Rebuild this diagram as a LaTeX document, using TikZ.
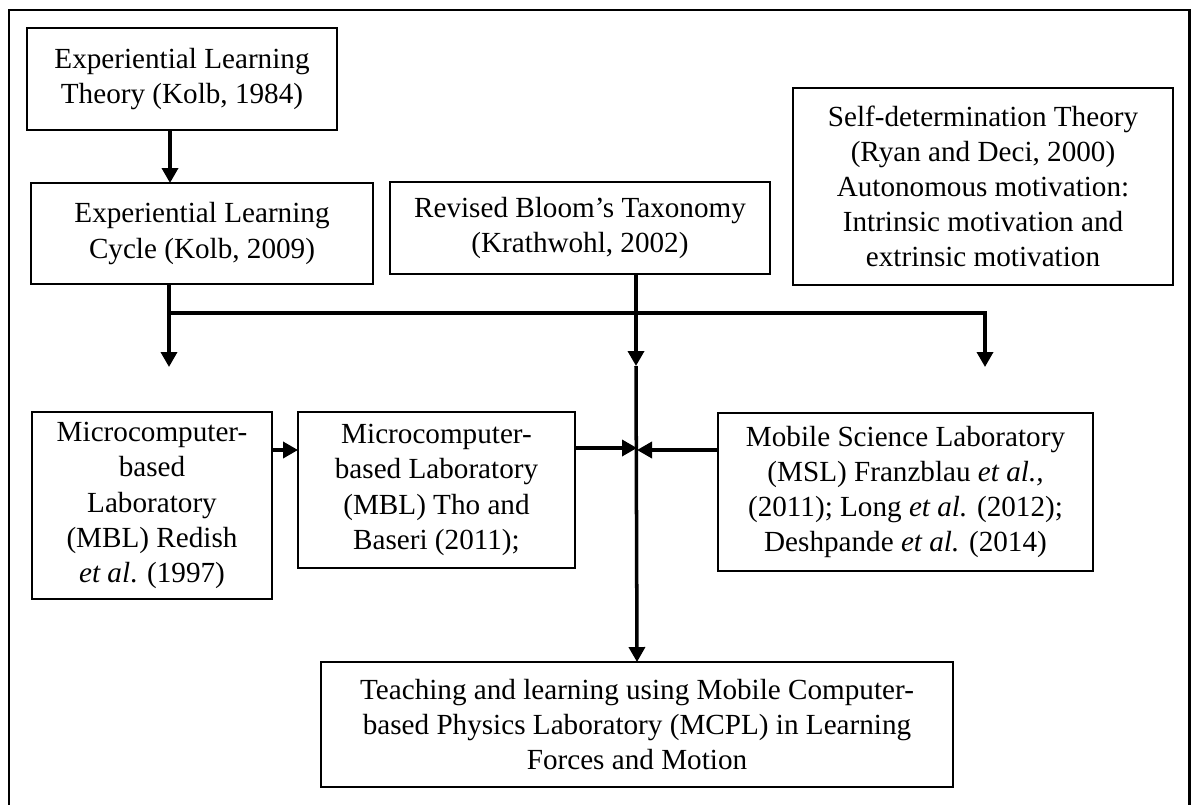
\documentclass[tikz,border=0pt]{standalone}
\usepackage{fontspec}
\setmainfont{Liberation Serif}
\usetikzlibrary{arrows.meta}
\begin{document}
\begin{tikzpicture}[x=0.02cm,y=-0.02cm,
  box/.style={draw, line width=0.8pt, align=center, inner sep=2pt, outer sep=0pt,
    font=\fontsize{16.6}{20}\selectfont},
  conn/.style={line width=2pt},
  arr/.style={conn, -{Triangle[length=0.3cm,width=0.32cm]}},
  frameline/.style={line width=1.7pt}]
\useasboundingbox (0,0) rectangle (1194,805);
\draw[frameline] (9,805) -- (9,10) -- (1189,10) -- (1189,805);

\node[box, minimum width=6.2cm, minimum height=2.04cm] (b1) at (182,79)
  {Experiential Learning\\Theory (Kolb, 1984)};
\node[box, minimum width=6.84cm, minimum height=2.02cm] (b2) at (202,233.5)
  {Experiential Learning\\Cycle (Kolb, 2009)};
\node[box, minimum width=7.6cm, minimum height=1.84cm] (b3) at (580,228)
  {Revised Bloom’s Taxonomy\\(Krathwohl, 2002)};
\node[box, minimum width=7.6cm, minimum height=3.94cm] (b4) at (983,186.5)
  {Self-determination Theory\\(Ryan and Deci, 2000)\\Autonomous motivation:\\Intrinsic motivation and\\extrinsic motivation};
\node[box, minimum width=4.8cm, minimum height=3.74cm] (m1) at (152,505.5)
  {Microcomputer-\\based\\Laboratory\\(MBL) Redish\\\textit{et al}. (1997)};
\node[box, minimum width=5.54cm, minimum height=3.12cm] (m2) at (436.5,490)
  {Microcomputer-\\based Laboratory\\(MBL) Tho and\\Baseri (2011);};
\node[box, minimum width=7.5cm, minimum height=3.16cm] (msl) at (905.5,492)
  {Mobile Science Laboratory\\(MSL) Franzblau \textit{et al.,}\\(2011); Long \textit{et al.} (2012);\\Deshpande \textit{et al.} (2014)};
\node[box, minimum width=12.64cm, minimum height=2.5cm] (bot) at (637,724.5)
  {Teaching and learning using Mobile Computer-\\based Physics Laboratory (MCPL) in Learning\\Forces and Motion};

\coordinate (x170) at (170,0);
\coordinate (xL) at (169,0);
\coordinate (xC) at (636,0);
\coordinate (hL) at (169,313);
\coordinate (hR) at (985,313);
\coordinate (tL) at (169,367);
\coordinate (tR) at (985,367);
\coordinate (tC) at (636,366);
\coordinate (y450) at (0,450);
\coordinate (jL) at (637,448);
\coordinate (jR) at (637,450);

\draw[arr] (x170 |- b1.south) -- (x170 |- b2.north);
\draw[arr] (xL |- b2.south) -- (tL);
\draw[arr] (hL) -- (hR) -- (tR);
\draw[arr] (xC |- b3.south) -- (tC);
\draw[arr] (tC) -- (bot.north);
\draw[arr] (m1.east |- y450) -- (m2.west |- y450);
\draw[arr] (m2.east |- jL) -- (jL);
\draw[arr] (msl.west |- jR) -- (jR);
\end{tikzpicture}
\end{document}
